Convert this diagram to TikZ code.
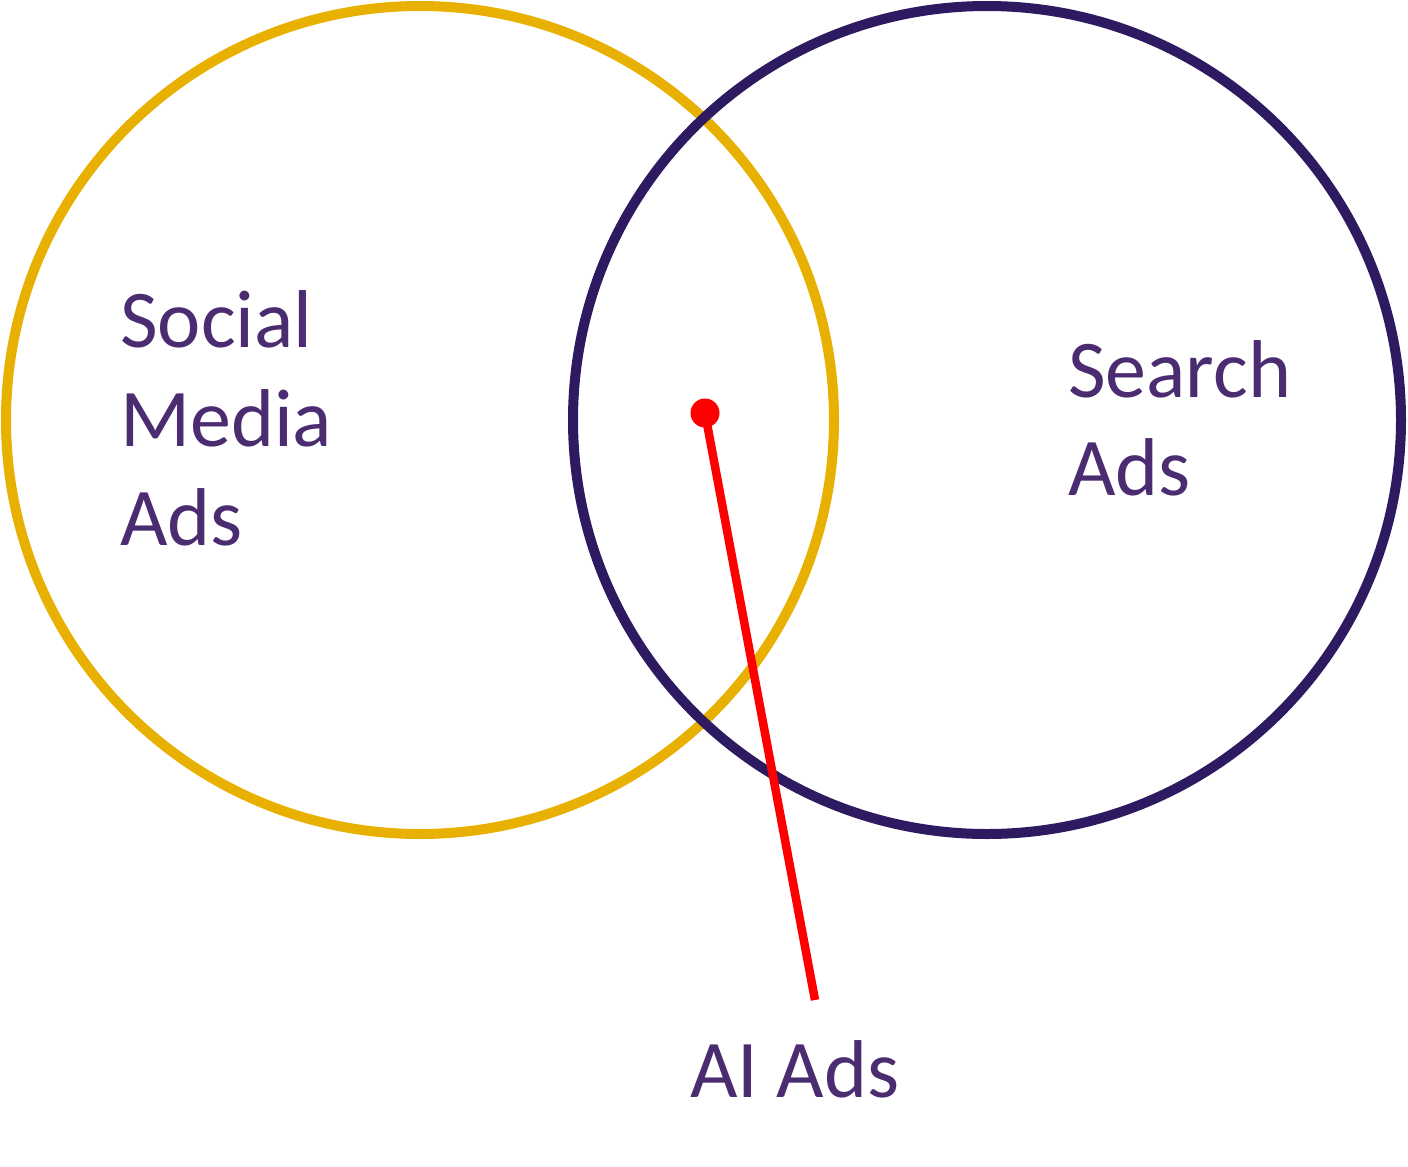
\documentclass[tikz,border=0pt]{standalone}
\usepackage{fontspec}
\setmainfont{Carlito}
\definecolor{gold}{HTML}{E8B000}
\definecolor{ringpurple}{HTML}{2E1A60}
\definecolor{txtpurple}{HTML}{4B2C70}
\begin{document}
\begin{tikzpicture}[x=1pt,y=1pt,
  lbl/.style={anchor=base west,inner sep=0pt,text=txtpurple,font=\fontsize{82}{100}\selectfont},
  ring/.style={line width=10pt}]
\useasboundingbox (0,0) rectangle (1408,-1167);
\fill[white] (0,0) rectangle (1408,-1167);
\draw[ring,gold] (420,-420) circle[radius=414];
\draw[ring,ringpurple] (987,-420) circle[radius=414];
\node[lbl] (s1) at (120,-347) {Social};
\node[lbl] (s2) at (120,-446) {Media};
\node[lbl] (s3) at (120,-545) {Ads};
\node[lbl] (r1) at (1068,-397) {Search};
\node[lbl] (r2) at (1068,-495) {Ads};
\node[lbl] (ai) at (690,-1097) {AI Ads};
\node[circle,fill=red,inner sep=0pt,minimum size=29pt] (dot) at (705,-413) {};
\coordinate (lend) at (815,-1000);
\draw[red,line width=8.5pt] (dot.center) -- (lend);
\end{tikzpicture}
\end{document}
